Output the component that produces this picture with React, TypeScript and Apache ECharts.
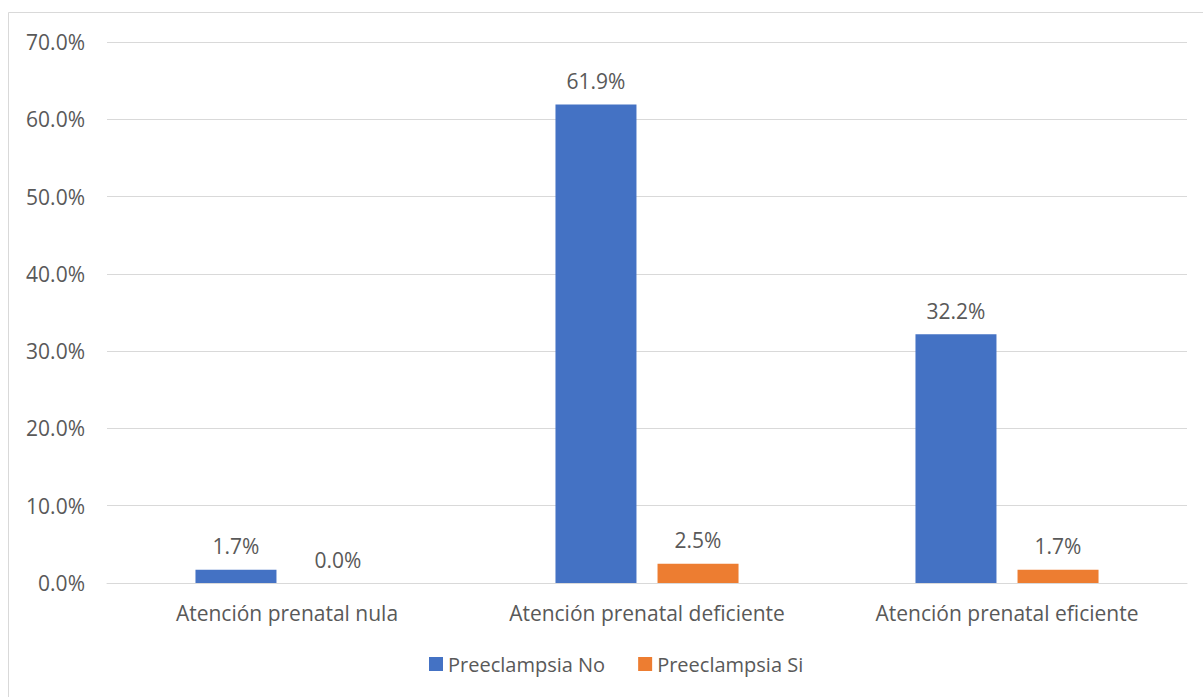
import React, { useEffect, useRef } from "react";
import * as echarts from "echarts";

const categories = [
  "Atención prenatal nula",
  "Atención prenatal deficiente",
  "Atención prenatal eficiente",
];
const seriesNames = ["Preeclampsia No", "Preeclampsia Si"];
const preeclampsiaNo = [1.7, 61.9, 32.2];
const preeclampsiaSi = [0.0, 2.5, 1.7];
const yTicks = { min: 0, max: 70, interval: 10 };

const FONT = "'Open Sans', sans-serif";
const TEXT = "#595959";
const FS = 21;

export default function App() {
  const ref = useRef<HTMLDivElement>(null);
  useEffect(() => {
    if (!ref.current) return;
    const chart = echarts.init(ref.current, null, { renderer: "svg" });
    const label = {
      show: true,
      position: "top",
      distance: 13,
      color: TEXT,
      fontFamily: FONT,
      fontSize: FS,
      formatter: (p: any) => Number(p.value).toFixed(1) + "%",
    };
    chart.setOption({
      animation: false,
      backgroundColor: "#ffffff",
      textStyle: { fontFamily: FONT },
      graphic: [
        {
          type: "rect",
          shape: { x: 8.5, y: 12.5, width: 1220, height: 720 },
          style: { fill: "none", stroke: "#D9D9D9", lineWidth: 1 },
          silent: true,
        },
      ],
      grid: { left: 107, right: 16, top: 42, height: 541 },
      legend: {
        bottom: 18,
        left: 424,
        itemWidth: 14,
        itemHeight: 14,
        itemGap: 33,
        icon: "rect",
        textStyle: { color: TEXT, fontFamily: FONT, fontSize: 20 },
        data: seriesNames,
      },
      xAxis: {
        type: "category",
        data: categories,
        axisLine: { lineStyle: { color: "#D9D9D9", width: 1 } },
        axisTick: { show: false },
        axisLabel: { color: TEXT, fontFamily: FONT, fontSize: FS, margin: 19 },
      },
      yAxis: {
        type: "value",
        min: yTicks.min,
        max: yTicks.max,
        interval: yTicks.interval,
        axisLine: { show: false },
        axisTick: { show: false },
        splitLine: { lineStyle: { color: "#D9D9D9", width: 1 } },
        axisLabel: {
          color: TEXT,
          fontFamily: FONT,
          fontSize: FS,
          margin: 22,
          formatter: (v: number) => v.toFixed(1) + "%",
        },
      },
      series: [
        {
          name: seriesNames[0],
          type: "bar",
          data: preeclampsiaNo,
          barWidth: 81,
          barGap: "26%",
          itemStyle: { color: "#4472C4" },
          label,
        },
        {
          name: seriesNames[1],
          type: "bar",
          data: preeclampsiaSi,
          barWidth: 81,
          barGap: "26%",
          itemStyle: { color: "#ED7D31" },
          label,
        },
      ],
    });
    return () => chart.dispose();
  }, []);
  return (
    <div
      ref={ref}
      style={{ position: "absolute", left: 0, top: 0, width: 1203, height: 697 }}
    />
  );
}
